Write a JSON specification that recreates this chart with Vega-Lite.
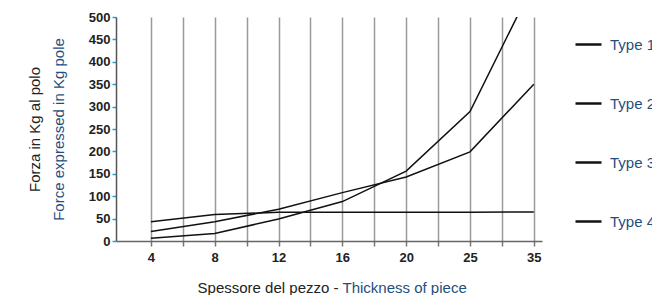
{
  "$schema": "https://vega.github.io/schema/vega-lite/v6.json",
  "width": 426,
  "height": 224,
  "autosize": {"type": "none"},
  "padding": {"left": 116, "top": 17, "right": 110, "bottom": 54},
  "background": "white",
  "config": {"view": {"stroke": null}, "font": "Liberation Sans"},
  "data": {
    "values": [
      {"type": "Type 1", "thickness": 4, "force": 6},
      {"type": "Type 1", "thickness": 8, "force": 17},
      {"type": "Type 1", "thickness": 12, "force": 49},
      {"type": "Type 1", "thickness": 16, "force": 88},
      {"type": "Type 1", "thickness": 20, "force": 156},
      {"type": "Type 1", "thickness": 25, "force": 289},
      {"type": "Type 1", "thickness": 35, "force": 576},
      {"type": "Type 2", "thickness": 4, "force": 21},
      {"type": "Type 2", "thickness": 8, "force": 43},
      {"type": "Type 2", "thickness": 12, "force": 71},
      {"type": "Type 2", "thickness": 16, "force": 108},
      {"type": "Type 2", "thickness": 20, "force": 143},
      {"type": "Type 2", "thickness": 25, "force": 199},
      {"type": "Type 2", "thickness": 35, "force": 350},
      {"type": "Type 3", "thickness": 4, "force": 43},
      {"type": "Type 3", "thickness": 8, "force": 59},
      {"type": "Type 3", "thickness": 12, "force": 64},
      {"type": "Type 3", "thickness": 16, "force": 64},
      {"type": "Type 3", "thickness": 20, "force": 64},
      {"type": "Type 3", "thickness": 25, "force": 64},
      {"type": "Type 3", "thickness": 35, "force": 65}
    ]
  },
  "layer": [
    {
      "mark": {"type": "line", "clip": true, "strokeWidth": 1.5},
      "encoding": {
        "x": {
          "field": "thickness",
          "type": "ordinal",
          "scale": {"type": "point", "domain": [4, 6, 8, 10, 12, 14, 16, 18, 20, 22.5, 25, 30, 35], "padding": 0.675, "align": 0.81},
          "axis": {
            "orient": "bottom",
            "title": "Spessore del pezzo -",
            "titleX": 222,
            "titleY": 51,
            "titleAlign": "right",
            "titleBaseline": "alphabetic",
            "titleFontSize": 15,
            "titleFontWeight": "normal",
            "titleColor": "#222222",
            "labelAngle": 0,
            "labelExpr": "indexof([4,8,12,16,20,25,35], datum.value) >= 0 ? datum.label : ''",
            "labelFontSize": 13,
            "labelFontWeight": "bold",
            "labelColor": "#222222",
            "labelPadding": 5,
            "labelOverlap": false,
            "tickSize": 5,
            "tickColor": "#777777",
            "tickWidth": 1.5,
            "domainColor": "#666666",
            "domainWidth": 1.5,
            "grid": true,
            "gridColor": "#9a9a9a",
            "gridWidth": 1.5
          }
        },
        "y": {
          "field": "force",
          "type": "quantitative",
          "scale": {"domain": [0, 500], "nice": false},
          "axis": {
            "orient": "left",
            "values": [0, 50, 100, 150, 200, 250, 300, 350, 400, 450, 500],
            "title": "Force expressed in Kg pole",
            "titleX": -53,
            "titleY": 112,
            "titleAngle": -90,
            "titleAlign": "center",
            "titleBaseline": "alphabetic",
            "titleFontSize": 15,
            "titleFontWeight": "normal",
            "titleColor": "#1f4f7d",
            "labelFontSize": 13,
            "labelFontWeight": "bold",
            "labelColor": "#222222",
            "labelPadding": 2,
            "tickSize": 4,
            "tickColor": "#2aa0d6",
            "tickWidth": 1.5,
            "domainColor": "#555555",
            "domainWidth": 1.5,
            "grid": false
          }
        },
        "color": {
          "field": "type",
          "type": "nominal",
          "scale": {"domain": ["Type 1", "Type 2", "Type 3", "Type 4"], "range": ["#111111", "#111111", "#111111", "#111111"]},
          "legend": {
            "orient": "none",
            "legendX": 458,
            "legendY": 13,
            "title": null,
            "symbolType": "stroke",
            "symbolSize": 676,
            "symbolStrokeWidth": 2.5,
            "labelColor": "#1f4f7d",
            "labelFontSize": 15,
            "labelFont": "Liberation Sans",
            "labelOffset": 7,
            "rowPadding": 36,
            "padding": 0
          }
        }
      }
    },
    {
      "mark": {"type": "line", "opacity": 0},
      "encoding": {
        "x": {
          "field": "thickness",
          "type": "ordinal",
          "axis": {
            "orient": "bottom",
            "title": "Thickness of piece",
            "titleX": 226,
            "titleY": 51,
            "titleAlign": "left",
            "titleBaseline": "alphabetic",
            "titleFontSize": 15,
            "titleFontWeight": "normal",
            "titleColor": "#1f4f7d",
            "labels": false,
            "ticks": false,
            "domain": false,
            "grid": false
          }
        },
        "y": {
          "field": "force",
          "type": "quantitative",
          "axis": {
            "orient": "left",
            "title": "Forza in Kg al polo",
            "titleX": -77,
            "titleY": 112,
            "titleAngle": -90,
            "titleAlign": "center",
            "titleBaseline": "alphabetic",
            "titleFontSize": 15,
            "titleFontWeight": "normal",
            "titleColor": "#222222",
            "labels": false,
            "ticks": false,
            "domain": false,
            "grid": false
          }
        },
        "detail": {"field": "type"}
      }
    }
  ],
  "resolve": {"axis": {"x": "independent", "y": "independent"}}
}
